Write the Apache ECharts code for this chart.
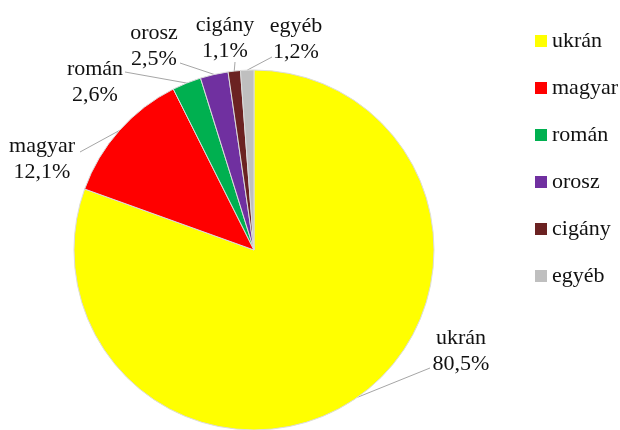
<!DOCTYPE html>
<html>
<head>
<meta charset="utf-8">
<script src="https://cdn.jsdelivr.net/npm/echarts@6/dist/echarts.min.js"></script>
<style>
html,body{margin:0;padding:0;background:#fff;}
#c{width:620px;height:430px;}
</style>
</head>
<body>
<div id="c"></div>
<script>
var categories = ['ukrán', 'magyar', 'román', 'orosz', 'cigány', 'egyéb'];
var values = [80.5, 12.1, 2.6, 2.5, 1.1, 1.2];
var colors = ['#ffff00', '#ff0000', '#00b050', '#7030a0', '#6b2222', '#bfbfbf'];

// label placement (text block centre and leader-line end point), by category index
var labelPlace = [
  { x: 461, y: 351, end: [430, 368] },
  { x: 42,  y: 159, end: [80, 152] },
  { x: 95,  y: 82,  end: [125, 72] },
  { x: 154, y: 46,  end: [180, 63] },
  { x: 225, y: 38,  end: [235, 62] },
  { x: 296, y: 39,  end: [272, 57] }
];

var FONT = '"Liberation Serif", "Times New Roman", serif';
var chart = echarts.init(document.getElementById('c'), null, { renderer: 'canvas' });

var data = categories.map(function (n, i) {
  return { name: n, value: values[i], itemStyle: { color: colors[i] } };
});

chart.setOption({
  animation: false,
  backgroundColor: '#ffffff',
  legend: {
    orient: 'vertical',
    left: 535,
    top: 30,
    padding: 0,
    itemWidth: 12,
    itemHeight: 12,
    itemGap: 25,
    icon: 'rect',
    data: categories,
    itemStyle: { borderWidth: 0 },
    textStyle: { fontFamily: FONT, fontSize: 22, color: '#111', padding: [0, 0, 0, 0], lineHeight: 22 }
  },
  series: [{
    type: 'pie',
    center: [254, 250],
    radius: 180,
    startAngle: 90,
    clockwise: true,
    avoidLabelOverlap: false,
    data: data,
    itemStyle: { borderColor: '#dcdcdc', borderWidth: 1 },
    label: {
      show: true,
      position: 'outside',
      fontFamily: FONT,
      fontSize: 22,
      lineHeight: 26,
      color: '#111',
      align: 'center',
      formatter: function (p) {
        return p.name + '\n' + p.value.toFixed(1).replace('.', ',') + '%';
      }
    },
    labelLine: {
      show: true,
      length: 10,
      length2: 10,
      lineStyle: { color: '#a6a6a6', width: 1 }
    },
    labelLayout: function (p) {
      var s = labelPlace[p.dataIndex];
      var res = { x: s.x, y: s.y, align: 'center', verticalAlign: 'middle' };
      if (p.labelLinePoints && p.labelLinePoints.length) {
        var st = p.labelLinePoints[0];
        res.labelLinePoints = [[st[0], st[1]], s.end];
      }
      return res;
    },
    emphasis: { disabled: true }
  }]
});
</script>
</body>
</html>
